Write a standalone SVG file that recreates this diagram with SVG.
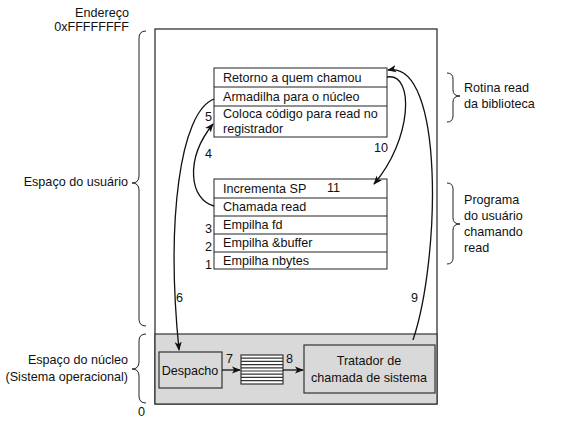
<svg xmlns="http://www.w3.org/2000/svg" width="566" height="425" viewBox="0 0 566 425">
<defs>
<marker id="ah" viewBox="0 0 10 10" refX="9" refY="5" markerWidth="9" markerHeight="9" markerUnits="userSpaceOnUse" orient="auto">
<path d="M0,1 L10,5 L0,9 L2.5,5 z" fill="#111"/>
</marker>
<style>
text{font-family:"Liberation Sans",Arial,sans-serif;font-size:12.6px;fill:#111}
.r{text-anchor:end}
.m{text-anchor:middle}
.box{fill:#fff;stroke:#222;stroke-width:1}
.k{fill:#d9d9d9;stroke:#333;stroke-width:1.2}
.br{fill:none;stroke:#222;stroke-width:1}
.c{fill:none;stroke:#111;stroke-width:1.3}
.st{stroke:#333;stroke-width:1.2}
</style>
</defs>
<rect x="0" y="0" width="566" height="425" fill="#fff"/>

<g id="labels-left">
<text class="r" x="129" y="17">Endereço</text>
<text class="r" x="129" y="31">0xFFFFFFFF</text>
<text class="r" x="128" y="186">Espaço do usuário</text>
<text class="r" x="128" y="364">Espaço do núcleo</text>
<text class="r" x="128" y="381">(Sistema operacional)</text>
<text x="138" y="416">0</text>
<path class="br" d="M146,31 Q139,31 139,38 L139,176 Q139,183 132,183 Q139,183 139,190 L139,319 Q139,326 146,326"/>
<path class="br" d="M146,334 Q139,334 139,341 L139,362 Q139,369 132,369 Q139,369 139,376 L139,396 Q139,403 146,403"/>
</g>

<g id="memory">
<rect x="155" y="29" width="282" height="375" fill="#fff" stroke="#222" stroke-width="1.2"/>
<rect class="k" x="155" y="334" width="282" height="70"/>
</g>

<g id="library">
<rect class="box" x="214" y="68" width="173" height="69"/>
<line x1="214" y1="87" x2="387" y2="87" stroke="#222"/>
<line x1="214" y1="106" x2="387" y2="106" stroke="#222"/>
<text x="223" y="82">Retorno a quem chamou</text>
<text x="223" y="101">Armadilha para o núcleo</text>
<text x="223" y="118">Coloca código para read no</text>
<text x="223" y="133">registrador</text>
</g>

<g id="program">
<rect class="box" x="214" y="179" width="173" height="90"/>
<line x1="214" y1="198" x2="387" y2="198" stroke="#222"/>
<line x1="214" y1="216" x2="387" y2="216" stroke="#222"/>
<line x1="214" y1="234" x2="387" y2="234" stroke="#222"/>
<line x1="214" y1="252" x2="387" y2="252" stroke="#222"/>
<text x="223" y="193">Incrementa SP</text>
<text x="327" y="192">11</text>
<text x="223" y="211">Chamada read</text>
<text x="223" y="229">Empilha fd</text>
<text x="223" y="247">Empilha &amp;buffer</text>
<text x="223" y="265">Empilha nbytes</text>
</g>

<g id="labels-right">
<path class="br" d="M447,73 Q453,73 453,79 L453,90 Q453,96 460,96 Q453,96 453,102 L453,116 Q453,122 447,122"/>
<text x="464" y="92">Rotina read</text>
<text x="464" y="108">da biblioteca</text>
<path class="br" d="M447,183 Q453,183 453,189 L453,218 Q453,224 460,224 Q453,224 453,230 L453,258 Q453,264 447,264"/>
<text x="464" y="204">Programa</text>
<text x="464" y="220">do usuário</text>
<text x="464" y="236">chamando</text>
<text x="464" y="252">read</text>
</g>

<g id="dispatch">
<rect class="k" x="159" y="352" width="63" height="36"/>
<text class="m" x="190" y="375">Despacho</text>
</g>

<g id="table">
<rect x="241" y="355" width="42" height="29" fill="#fff" stroke="#333" stroke-width="1.2"/>
<line class="st" x1="241" y1="358.2" x2="283" y2="358.2"/>
<line class="st" x1="241" y1="361.4" x2="283" y2="361.4"/>
<line class="st" x1="241" y1="364.6" x2="283" y2="364.6"/>
<line class="st" x1="241" y1="367.8" x2="283" y2="367.8"/>
<line class="st" x1="241" y1="371" x2="283" y2="371"/>
<line class="st" x1="241" y1="374.2" x2="283" y2="374.2"/>
<line class="st" x1="241" y1="377.4" x2="283" y2="377.4"/>
<line class="st" x1="241" y1="380.6" x2="283" y2="380.6"/>
</g>

<g id="handler">
<rect class="k" x="304" y="345" width="131" height="48"/>
<text class="m" x="369" y="365">Tratador de</text>
<text class="m" x="369" y="382">chamada de sistema</text>
</g>

<g id="connectors">
<path class="c" d="M214,99 C180,112 166,220 179,350" marker-end="url(#ah)"/>
<path class="c" d="M214,206 C190,200 184,160 213,124" marker-end="url(#ah)"/>
<path class="c" d="M387,77 C415,72 412,140 374,184" marker-end="url(#ah)"/>
<path class="c" d="M413,340 C440,260 445,60 388,70" marker-end="url(#ah)"/>
<line class="c" x1="222" y1="370" x2="240" y2="370" marker-end="url(#ah)"/>
<line class="c" x1="283" y1="370" x2="303" y2="370" marker-end="url(#ah)"/>
<text class="r" x="212" y="121">5</text>
<text x="205" y="158">4</text>
<text x="374" y="152">10</text>
<text x="176" y="302">6</text>
<text x="411" y="302">9</text>
<text x="226" y="363">7</text>
<text x="286" y="363">8</text>
<text class="r" x="212" y="233">3</text>
<text class="r" x="212" y="251">2</text>
<text class="r" x="212" y="269">1</text>
</g>
</svg>
